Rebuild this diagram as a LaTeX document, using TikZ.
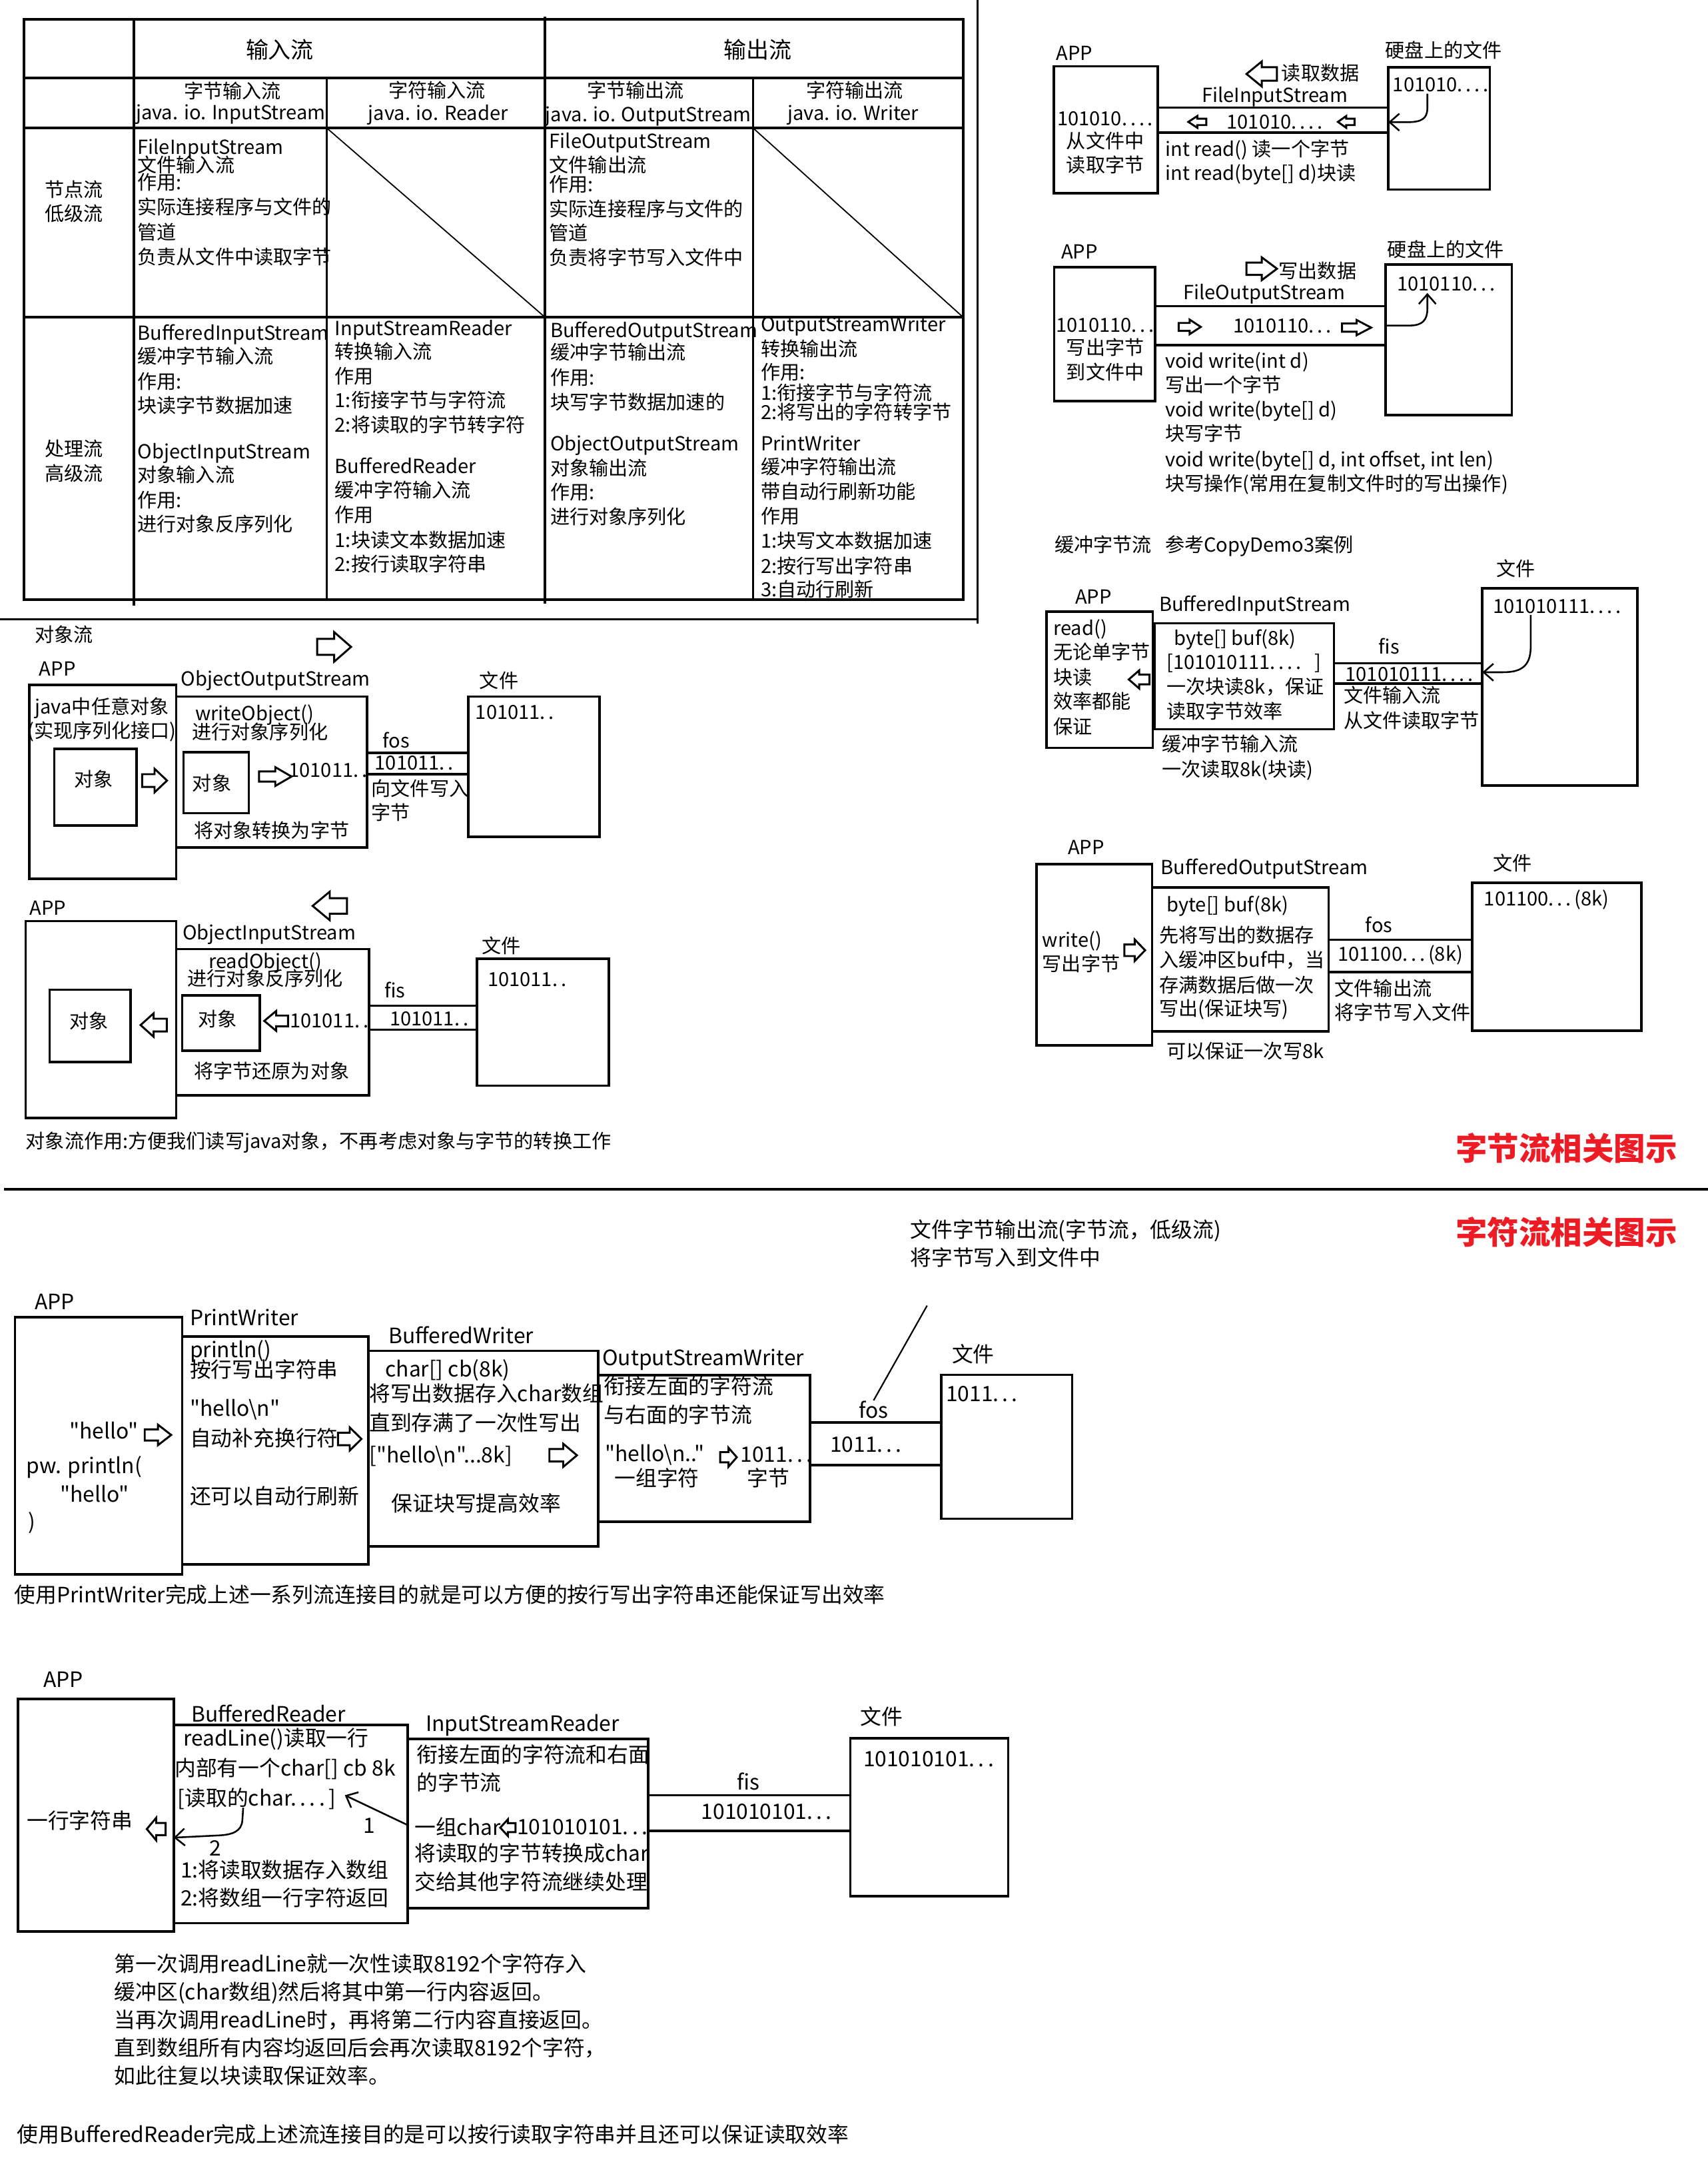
\documentclass[tikz,border=0pt]{standalone}
\usepackage{fontspec}
\setmainfont{Noto Sans CJK SC}[Ligatures=TeXOff]
\usetikzlibrary{arrows.meta,fit}
\definecolor{titlered}{RGB}{237,28,36}
\newcommand{\smallcn}{\fontsize{7.97pt}{10.24pt}\selectfont\lineskiplimit=-10pt}
\newcommand{\largecn}{\fontsize{8.7pt}{11.72pt}\selectfont\lineskiplimit=-10pt}
\newcommand{\headcn}{\fontsize{9.3pt}{11pt}\selectfont}
\newcommand{\titlecn}{\fontsize{13pt}{15pt}\selectfont\bfseries}

\begin{document}
\begin{tikzpicture}[x=0.02cm, y=-0.02cm,
      tbl/.style={line width=1pt},
      diag/.style={line width=0.5pt},
      box/.style={draw, line width=1pt, inner sep=0pt, outer sep=0pt, fit={#1}},
      pipe/.style={line width=1pt},
      txt/.style={anchor=north west, inner sep=0pt, align=left, font=\smallcn,
                  execute at begin node=\strut},
      ctxt/.style={txt, anchor=north, align=center},
      lab/.style={anchor=west, inner sep=0pt, font=\smallcn},
      cl/.style={inner sep=0pt, font=\smallcn},
      btxt/.style={txt, font=\largecn},
      blab/.style={lab, font=\largecn},
      hd/.style={inner sep=0pt, font=\headcn},
      title/.style={inner sep=0pt, font=\titlecn, text=titlered},
      carr/.style={-{Straight Barb[length=4pt,width=7pt]}, line width=0.7pt},
      blk/.pic={\draw[line width=0.8pt, line join=miter]
                (0,-0.27) -- (0.5,-0.27) -- (0.5,-0.5) -- (1,0) -- (0.5,0.5) -- (0.5,0.27) -- (0,0.27) -- cycle;}
    ]
    \useasboundingbox (0,0) rectangle (1233,1568);

    \draw[tbl] (17.2,14) rectangle (695.4,433);
    \draw[tbl] (17.2,56.4) -- (695.4,56.4);
    \draw[tbl] (17.2,92.5) -- (695.4,92.5);
    \draw[tbl] (17.2,229) -- (695.4,229);
    \draw[tbl] (96.7,14) -- (96.7,437);
    \draw[tbl] (393.5,12) -- (393.5,436);
    \draw[tbl] (236,56.4) -- (236,433);
    \draw[tbl] (543.8,56.4) -- (543.8,433);
    \draw[diag] (236,92.5) -- (393.5,229);
    \draw[diag] (543.8,92.5) -- (695.4,229);
    \draw[line width=0.9pt] (706,0) -- (706,450);
    \draw[line width=0.9pt] (0,447) -- (706,447);
    \draw[line width=1.2pt] (3,858.4) -- (1233,858.4);

    \node[hd] (hin) at (202,36) {输入流};
    \node[hd] (hout) at (547,36) {输出流};
    \node[cl] (sh1a) at (168,65.4) {字节输入流};
    \node[cl] (sh1b) at (166.6,82.7) {java. io. InputStream};
    \node[cl] (sh2a) at (315.5,64.9) {字符输入流};
    \node[cl] (sh2b) at (316.4,82.7) {java. io. Reader};
    \node[cl] (sh3a) at (459,64.9) {字节输出流};
    \node[cl] (sh3b) at (468,84) {java. io. OutputStream};
    \node[cl] (sh4a) at (617,64.9) {字符输出流};
    \node[cl] (sh4b) at (616,83.2) {java. io. Writer};
    \node[ctxt] (row1) at (53.6,130.1) {节点流\\[-0.45pt]低级流};
    \node[ctxt] (row2) at (53.6,317.1) {处理流\\[-0.2pt]高级流};
    \node[txt] (c11) at (99,99.9) {FileInputStream\\[-3pt]文件输入流\\[-3pt]作用:\\实际连接程序与文件的\\管道\\负责从文件中读取字节};
    \node[txt] (c13) at (396.3,95.7) {FileOutputStream\\[-0.6pt]文件输出流\\[-2.2pt]作用:\\实际连接程序与文件的\\[-0.6pt]管道\\负责将字节写入文件中};
    \node[txt] (c21) at (99,233.9) {BufferedInputStream\\[-0.6pt]缓冲字节输入流\\作用:\\[-0.3pt]块读字节数据加速\\[8.7pt]ObjectInputStream\\[-0.6pt]对象输入流\\作用:\\[-0.2pt]进行对象反序列化};
    \node[txt] (c22) at (241.5,230.5) {InputStreamReader\\[-0.6pt]转换输入流\\作用\\[-0.5pt]1:衔接字节与字符流\\2:将读取的字节转字符\\[6.8pt]BufferedReader\\[-0.6pt]缓冲字符输入流\\作用\\1:块读文本数据加速\\[-0.2pt]2:按行读取字符串};
    \node[txt] (c23) at (397,231.7) {BufferedOutputStream\\[-0.97pt]缓冲字节输出流\\作用:\\块写字节数据加速的\\[6.8pt]ObjectOutputStream\\[-0.3pt]对象输出流\\[-0.3pt]作用:\\进行对象序列化};
    \node[txt] (c24) at (549,228.3) {OutputStreamWriter\\[-0.3pt]转换输出流\\[-0.6pt]作用:\\[-1.7pt]1:衔接字节与字符流\\[-2.3pt]2:将写出的字符转字节\\[2.6pt]PrintWriter\\[-0.6pt]缓冲字符输出流\\[-0.3pt]带自动行刷新功能\\作用\\1:块写文本数据加速\\2:按行写出字符串\\[-0.6pt]3:自动行刷新};

    \node[lab] (appAl) at (762.3,38.5) {APP};
    \node[box={(761,47.8) (836,139.4)}] (appA) {};
    \node[ctxt] (appAt) at (798,80.1) {101010.\,.\,.\,.\\[-1pt]从文件中\\[-0.3pt]读取字节};
    \node[lab] (fileAl) at (1000,36.1) {硬盘上的文件};
    \node[box={(1002.4,48.5) (1075.7,136.8)}] (fileA) {};
    \node[lab] (fileAt) at (1005.3,61.3) {101010.\,.\,.\,.};
    \draw[pipe] (appA.east |- 0,77.6) -- (fileA.west |- 0,77.6);
    \draw[pipe] (appA.east |- 0,95.6) -- (fileA.west |- 0,95.6);
    \node[lab] (fisA) at (867.4,69.9) {FileInputStream};
    \pic[xscale=-22,yscale=18] at (922,53.4) {blk};
    \node[lab] (readA) at (925,52.9) {读取数据};
    \pic[xscale=-13,yscale=8.5] at (871,88) {blk};
    \node[lab] (pipeAt) at (885.4,88.1) {101010.\,.\,.\,.};
    \pic[xscale=-12,yscale=8.5] at (978,88) {blk};
    \node[txt] (methA) at (841,100.4) {int read() 读一个字节\\[-0.3pt]int read(byte[] d)块读};
    \coordinate (cA) at (1030.6,67.6);
    \draw[carr] (cA) -- (1030.6,78) .. controls (1030.6,86) and (1026,88.2) .. (1016,88.2) -- (fileA.west |- 0,88.2);

    \node[lab] (appBl) at (765.9,181.8) {APP};
    \node[box={(761.2,193) (834.1,289.7)}] (appB) {};
    \node[ctxt] (appBt) at (798,229.3) {1010110.\,.\,.\\[-0.9pt]写出字节\\[-0.3pt]到文件中};
    \node[lab] (fileBl) at (1001.5,180) {硬盘上的文件};
    \node[box={(1000.5,191.1) (1091.5,299.5)}] (fileB) {};
    \node[lab] (fileBt) at (1008.4,205.1) {1010110.\,.\,.};
    \draw[pipe] (appB.east |- 0,221) -- (fileB.west |- 0,221);
    \draw[pipe] (appB.east |- 0,249) -- (fileB.west |- 0,249);
    \node[lab] (fosB) at (854,212.1) {FileOutputStream};
    \pic[xscale=22,yscale=16.5] at (900,194) {blk};
    \node[lab] (writeB) at (923,195.3) {写出数据};
    \pic[xscale=16,yscale=10.5] at (851,236) {blk};
    \node[lab] (pipeBt) at (890.2,235.4) {1010110.\,.\,.};
    \pic[xscale=21,yscale=11] at (969,236.5) {blk};
    \node[txt] (methB) at (841,253.8) {void write(int d)\\[-0.3pt]写出一个字节\\void write(byte[] d)\\[-0.6pt]块写字节\\[0.4pt]void write(byte[] d, int offset, int len)\\[-0.3pt]块写操作(常用在复制文件时的写出操作)};
    \coordinate (cB) at (1030.6,211.5);
    \draw[carr] (fileB.west |- 0,235) -- (1018,235) .. controls (1027,235) and (1030.6,231) .. (1030.6,223) -- (cB);

    \node[lab] (bisNote) at (761.1,394.4) {缓冲字节流\hspace{0.7em}参考CopyDemo3案例};
    \node[lab] (appCl) at (776,430.7) {APP};
    \node[box={(755.7,441.5) (832.4,539.9)}] (appC) {};
    \node[txt] (appCt) at (760.2,446.6) {read()\\[-0.2pt]无论单字节\\块读\\[-0.2pt]效率都能\\保证};
    \pic[xscale=-15,yscale=13] at (830,490.5) {blk};
    \node[lab] (bisl) at (836.6,437.1) {BufferedInputStream};
    \node[box={(833.5,450) (963.1,526.5)}] (bufC) {};
    \node[lab] (bufCa) at (847.4,461.6) {byte[] buf(8k)};
    \node[txt] (bufCt) at (842,471.5) {[101010111.\,.\,.\,.\ \ \ ]\\一次块读8k，保证\\读取字节效率};
    \node[txt] (bufCn) at (838.8,530.3) {缓冲字节输入流\\一次读取8k(块读)};
    \node[lab] (fisC) at (995.1,466.5) {fis};
    \node[lab] (fileCl) at (1080.3,410.6) {文件};
    \node[box={(1070.3,424.7) (1182.3,567.2)}] (fileC) {};
    \node[lab] (fileCt) at (1077.6,437.6) {101010111.\,.\,.\,.};
    \draw[pipe] (bufC.east |- 0,478.8) -- (fileC.west |- 0,478.8);
    \draw[pipe] (bufC.east |- 0,493.5) -- (fileC.west |- 0,493.5);
    \node[lab] (pipeCt) at (971,486.6) {101010111.\,.\,.\,.};
    \node[txt] (pipeCn) at (969.8,495.2) {文件输入流\\从文件读取字节};
    \coordinate (cC) at (1105.2,444);
    \draw[carr] (cC) -- (1105.2,467) .. controls (1105.2,482) and (1097,485.3) .. (1085,485.3) -- (fileC.west |- 0,485.3);

    \node[lab] (appDl) at (770.7,611.5) {APP};
    \node[box={(748.5,623.9) (831.9,754.5)}] (appD) {};
    \node[txt] (appDt) at (752.3,672) {write()\\[-0.45pt]写出字节};
    \pic[xscale=15,yscale=15.5] at (811.8,686) {blk};
    \node[lab] (bosl) at (837.9,627) {BufferedOutputStream};
    \node[box={(831.9,640.6) (959.3,744.7)}] (bufD) {};
    \node[lab] (bufDa) at (842,654) {byte[] buf(8k)};
    \node[txt] (bufDt) at (836.6,668.1) {先将写出的数据存\\入缓冲区buf中，当\\存满数据后做一次\\[-0.5pt]写出(保证块写)};
    \node[lab] (bufDn) at (842,758.8) {可以保证一次写8k};
    \node[lab] (fosD) at (985.6,667.4) {fos};
    \node[lab] (fileDl) at (1077.6,623.1) {文件};
    \node[box={(1063,637.3) (1185.1,744.2)}] (fileD) {};
    \node[lab] (fileDt) at (1071.2,649.4) {101100.\,.\,.\,(8k)};
    \draw[pipe] (bufD.east |- 0,678.5) -- (fileD.west |- 0,678.5);
    \draw[pipe] (bufD.east |- 0,701.7) -- (fileD.west |- 0,701.7);
    \node[lab] (pipeDt) at (965.6,689.3) {101100.\,.\,.\,(8k)};
    \node[txt] (pipeDn) at (963.4,706.5) {文件输出流\\[-0.3pt]将字节写入文件};

    \node[lab] (objl) at (25,458) {对象流};
    \pic[xscale=24.5,yscale=21.4] at (229,467) {blk};
    \node[lab] (appEl) at (28,482.6) {APP};
    \node[box={(21.2,494.5) (127.2,634.3)}] (appE) {};
    \node[ctxt] (appEt) at (73.6,503) {java中任意对象\\[-0.2pt](实现序列化接口)};
    \node[box={(39.2,540.5) (98.6,595.8)}] (objE1) {};
    \node[cl] (objE1t) at (67.7,562.6) {对象};
    \pic[xscale=18,yscale=17] at (102.6,563.5) {blk};
    \node[lab] (oosl) at (130.4,491.4) {ObjectOutputStream};
    \node[box={(127.2,502.8) (265,611.7)}] (oosE) {};
    \node[txt] (oosEt) at (138.4,508.5) {\,writeObject()\\[-2.6pt]进行对象序列化};
    \node[box={(132.5,543) (179.6,587)}] (objE2) {};
    \node[cl] (objE2t) at (153,565.1) {对象};
    \pic[xscale=23.5,yscale=13.6] at (187,560.6) {blk};
    \node[lab] (oosEb) at (208.1,556.3) {101011.\,.};
    \node[lab] (oosEn) at (139.8,599.6) {将对象转换为字节};
    \node[lab] (fosE) at (275.9,534.2) {fos};
    \node[lab] (fileEl) at (345.9,491.4) {文件};
    \node[box={(338,502.8) (432.8,604.1)}] (fileE) {};
    \node[lab] (fileEt) at (343,514.1) {101011.\,.};
    \draw[pipe] (oosE.east |- 0,543.5) -- (fileE.west |- 0,543.5);
    \draw[pipe] (oosE.east |- 0,558.8) -- (fileE.west |- 0,558.8);
    \node[lab] (pipeEt) at (270.3,551) {101011.\,.};
    \node[txt] (pipeEn) at (267.9,562.1) {向文件写入\\[-0.2pt]字节};

    \pic[xscale=-24.8,yscale=20.6] at (250.5,654) {blk};
    \node[lab] (appFl) at (21.2,655.7) {APP};
    \node[box={(18.5,665) (127.2,807.1)}] (appF) {};
    \node[box={(35.9,714.5) (94.2,766.8)}] (objF1) {};
    \node[cl] (objF1t) at (64.2,737.2) {对象};
    \pic[xscale=-18.9,yscale=17] at (120.4,740) {blk};
    \node[lab] (oisl) at (131.6,674.3) {ObjectInputStream};
    \node[box={(127.2,685.1) (266.4,790.7)}] (oisF) {};
    \node[ctxt] (oisFt) at (191.5,687.4) {readObject()\\[-3.1pt]进行对象反序列化};
    \node[box={(131.6,718.5) (187.5,758.5)}] (objF2) {};
    \node[cl] (objF2t) at (156.9,735.4) {对象};
    \pic[xscale=-17.2,yscale=14.3] at (208,737) {blk};
    \node[lab] (oisFb) at (209,736.7) {101011.\,.};
    \node[lab] (oisFn) at (139.8,773.1) {将字节还原为对象};
    \node[lab] (fisF) at (277.3,714.5) {fis};
    \node[lab] (fileFl) at (347.4,682.6) {文件};
    \node[box={(344.4,692.1) (439.5,783.7)}] (fileF) {};
    \node[lab] (fileFt) at (351.8,707) {101011.\,.};
    \draw[pipe] (oisF.east |- 0,726.1) -- (fileF.west |- 0,726.1);
    \draw[pipe] (oisF.east |- 0,743.4) -- (fileF.west |- 0,743.4);
    \node[lab] (pipeFt) at (281.1,735.4) {101011.\,.};
    \node[lab] (objNote) at (18.3,824.7) {对象流作用:方便我们读写java对象，不再考虑对象与字节的转换工作};

    \node[title] (t1) at (1131,829) {字节流相关图示};
    \node[title] (t2) at (1131,889.6) {字符流相关图示};
    \node[btxt] (fosNote) at (656.9,880.2) {文件字节输出流(字节流，低级流)\\[-0.3pt]将字节写入到文件中};

    \node[blab] (appGl) at (24.7,939.8) {APP};
    \node[box={(10.8,951) (131.6,1136.5)}] (appG) {};
    \node[blab] (appGa) at (49.8,1032.9) {"hello"};
    \pic[xscale=19.1,yscale=14.8] at (104.5,1035.9) {blk};
    \node[blab] (appGb) at (18.7,1059) {pw. println(};
    \node[blab] (appGc) at (43.1,1078.6) {"hello"};
    \node[blab] (appGd) at (20,1099.2) {)};
    \node[blab] (pwl) at (136.8,951) {PrintWriter};
    \node[box={(131.6,964.7) (265.9,1129.2)}] (pwG) {};
    \node[btxt] (pwGa) at (136.8,966.9) {println()\\[-3.3pt]按行写出字符串};
    \node[blab] (pwGb) at (136.8,1017.7) {"hello\textbackslash n"};
    \node[blab] (pwGc) at (136.8,1038.3) {自动补充换行符};
    \node[blab] (pwGd) at (136.8,1080.2) {还可以自动行刷新};
    \pic[xscale=17,yscale=16.7] at (244,1038.8) {blk};
    \node[blab] (bwl) at (280.3,963.8) {BufferedWriter};
    \node[box={(265.9,975.1) (431.8,1116.5)}] (bwG) {};
    \node[blab] (bwGa) at (277.9,989.3) {char[] cb(8k)};
    \node[btxt] (bwGb) at (266.3,998.3) {将写出数据存入char数组\\[0.34pt]直到存满了一次性写出\\[1.4pt]["hello\textbackslash n"...8k]};
    \pic[xscale=19.9,yscale=16.7] at (396.7,1050.6) {blk};
    \node[blab] (bwGc) at (282.3,1085.1) {保证块写提高效率};
    \node[blab] (oswl) at (434.6,981.4) {OutputStreamWriter};
    \node[box={(431.8,992.8) (584.9,1098.6)}] (oswG) {};
    \node[btxt] (oswGa) at (435.8,993) {衔接左面的字符流\\[0.2pt]与右面的字节流};
    \node[blab] (oswGb) at (436.6,1050.1) {"hello\textbackslash n.."};
    \pic[xscale=12,yscale=13.7] at (520,1052) {blk};
    \node[blab] (oswGc) at (534.3,1050.1) {1011.\,.\,.};
    \node[blab] (oswGd) at (443.4,1066.8) {一组字符};
    \node[blab] (oswGe) at (539,1066.8) {字节};
    \node[blab] (fosG) at (619.8,1017.6) {fos};
    \node[blab] (fileGl) at (687,977.4) {文件};
    \node[box={(679.5,992.5) (774.2,1096.4)}] (fileG) {};
    \node[blab] (fileGt) at (682.7,1006.5) {1011.\,.\,.};
    \draw[pipe] (oswG.east |- 0,1026.9) -- (fileG.west |- 0,1026.9);
    \draw[pipe] (oswG.east |- 0,1057.8) -- (fileG.west |- 0,1057.8);
    \node[blab] (pipeGt) at (599,1043) {1011.\,.\,.};
    \coordinate (ldr) at (669.4,942.5);
    \draw[line width=0.6pt] (ldr) -- (fosG.north);
    \node[blab] (pwNote) at (10,1151) {使用PrintWriter完成上述一系列流连接目的就是可以方便的按行写出字符串还能保证写出效率};

    \node[blab] (appHl) at (31.1,1212.5) {APP};
    \node[box={(12.9,1226.6) (125.4,1394.3)}] (appH) {};
    \node[blab] (appHt) at (19,1314) {一行字符串};
    \pic[xscale=-13.6,yscale=16.3] at (119.6,1320.4) {blk};
    \node[blab] (brl) at (137.8,1236.9) {BufferedReader};
    \node[box={(125.4,1245.2) (294.3,1388.3)}] (brH) {};
    \node[blab] (brHa) at (132,1255.3) {readLine()读取一行};
    \node[blab] (brHb) at (125.8,1276.8) {内部有一个char[] cb 8k};
    \node[blab] (brHc) at (128,1298.3) {[读取的char.\,.\,.\,.\,]};
    \node[blab] (brH1) at (262,1318) {1};
    \node[blab] (brH2) at (151,1334) {2};
    \node[btxt] (brHd) at (130,1342.4) {1:将读取数据存入数组\\[-0.1pt]2:将数组一行字符返回};
    \node[blab] (isrl) at (307,1245.7) {InputStreamReader};
    \node[box={(294.3,1255.3) (468,1377.5)}] (isrH) {};
    \node[btxt] (isrHa) at (300.5,1258.9) {衔接左面的字符流和右面\\[-0.2pt]的字节流};
    \node[blab] (isrHb) at (299,1319) {一组char};
    \pic[xscale=-11,yscale=12] at (372.2,1319.4) {blk};
    \node[blab] (isrHc) at (373,1319) {101010101.\,.\,.};
    \node[btxt] (isrHd) at (299,1330.4) {将读取的字节转换成char\\交给其他字符流继续处理};
    \node[blab] (fisH) at (532,1286) {fis};
    \node[blab] (fileHl) at (621,1239.3) {文件};
    \node[box={(614,1255) (728,1369)}] (fileH) {};
    \node[blab] (fileHt) at (623,1270) {101010101.\,.\,.};
    \draw[pipe] (isrH.east |- 0,1296) -- (fileH.west |- 0,1296);
    \draw[pipe] (isrH.east |- 0,1321.8) -- (fileH.west |- 0,1321.8);
    \node[blab] (pipeHt) at (506,1308) {101010101.\,.\,.};
    \coordinate (c1H) at (249,1296);
    \coordinate (c2H) at (175.6,1305);
    \draw[carr] (isrH.west |- 0,1317.5) -- (c1H);
    \draw[carr] (c2H) -- (175,1314) .. controls (174.5,1322) and (168,1324.5) .. (158,1325) -- (brH.west |- 0,1326.6);
    \node[btxt] (brNote) at (82.3,1410) {第一次调用readLine就一次性读取8192个字符存入\\[-0.2pt]缓冲区(char数组)然后将其中第一行内容返回。\\[-0.2pt]当再次调用readLine时，再将第二行内容直接返回。\\[-0.2pt]直到数组所有内容均返回后会再次读取8192个字符，\\[-0.2pt]如此往复以块读取保证效率。};
    \node[blab] (brNote2) at (12,1540.6) {使用BufferedReader完成上述流连接目的是可以按行读取字符串并且还可以保证读取效率};
  \end{tikzpicture}
\end{document}
